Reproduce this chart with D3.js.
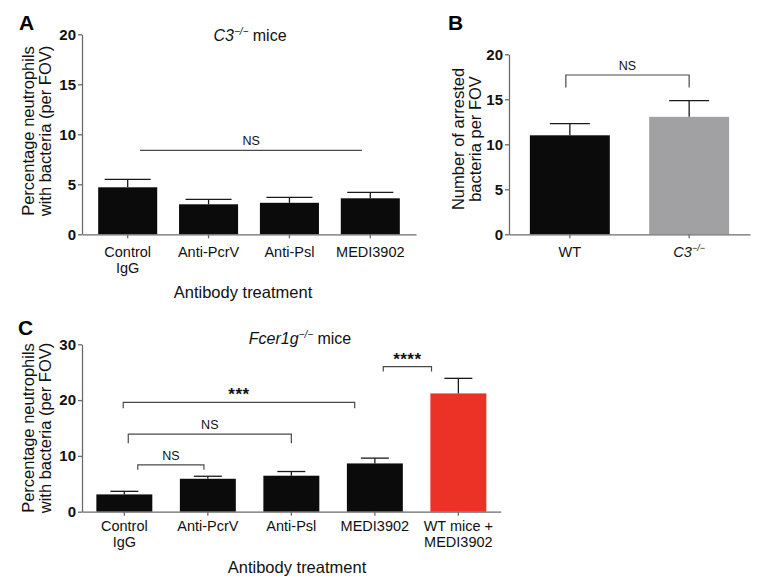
<!DOCTYPE html>
<html><head><meta charset="utf-8">
<script src="https://cdn.jsdelivr.net/npm/d3@7"></script>
<style>
body{margin:0;background:#fff}
text{font-family:"Liberation Sans",Arial,Helvetica,sans-serif}
</style>
</head><body>
<svg id="c" width="765" height="587"></svg>
<script>
// ---------------- DATA ----------------
const catsA = ["Control IgG","Anti-PcrV","Anti-Psl","MEDI3902"];
const labelsA = [["Control","IgG"],["Anti-PcrV"],["Anti-Psl"],["MEDI3902"]];
const meansA = [4.7, 3.0, 3.15, 3.6];
const errTopA = [5.5, 3.5, 3.7, 4.2];
const ticksA = [0, 5, 10, 15, 20];

const catsB = ["WT","C3"];
const meansB = [11.0, 13.05];
const errTopB = [12.3, 14.85];
const ticksB = [0, 5, 10, 15, 20];

const catsC = ["Control IgG","Anti-PcrV","Anti-Psl","MEDI3902","WT mice + MEDI3902"];
const labelsC = [["Control","IgG"],["Anti-PcrV"],["Anti-Psl"],["MEDI3902"],["WT mice +","MEDI3902"]];
const meansC = [3.1, 5.9, 6.45, 8.65, 21.2];
const errTopC = [3.65, 6.35, 7.2, 9.6, 23.9];
const ticksC = [0, 10, 20, 30];

// significance annotations: [from, to, value, label]
const sigA = [["Control IgG","MEDI3902",8.4,"NS"]];
const sigB = [["WT","C3",17.7,"NS"]];
const sigC = [
  ["Control IgG","MEDI3902",19.6,"***"],
  ["Control IgG","Anti-Psl",13.9,"NS"],
  ["Control IgG","Anti-PcrV",8.4,"NS"],
  ["MEDI3902","WT mice + MEDI3902",26.0,"****"]
];

// ---------------- LAYOUT / STYLE ----------------
const svg = d3.select("#c");
const AX = "#6b6b6b", BR = "#4a4a4a";

function panel(o){
  const g = svg.append("g");
  const x = d3.scaleBand().domain(o.cats).range(o.xr).paddingInner(o.pi).paddingOuter(o.po);
  const y = d3.scaleLinear().domain([0, o.ymax]).range(o.yr);
  const bw = x.bandwidth();

  // bars
  g.selectAll("rect.bar").data(o.cats).enter().append("rect")
    .attr("x", d => x(d)).attr("width", bw)
    .attr("y", (d,i) => y(o.means[i])).attr("height", (d,i) => y(0) - y(o.means[i]))
    .attr("fill", (d,i) => o.colors[i]);

  // error bars
  const cw = bw * o.cap;
  const eg = g.selectAll("g.err").data(o.cats).enter().append("g");
  eg.append("line").attr("x1", d => x(d)+bw/2).attr("x2", d => x(d)+bw/2)
    .attr("y1", (d,i) => y(o.means[i])).attr("y2", (d,i) => y(o.errTop[i]))
    .attr("stroke", "#1a1a1a").attr("stroke-width", 1.3);
  eg.append("line").attr("x1", d => x(d)+bw/2-cw/2).attr("x2", d => x(d)+bw/2+cw/2)
    .attr("y1", (d,i) => y(o.errTop[i])).attr("y2", (d,i) => y(o.errTop[i]))
    .attr("stroke", "#1a1a1a").attr("stroke-width", 1.3);

  // y axis
  const ya = g.append("g").attr("transform", `translate(${o.xr[0]},0)`)
    .call(d3.axisLeft(y).tickValues(o.ticks).tickSize(4).tickSizeOuter(0).tickPadding(2));
  ya.select(".domain").attr("stroke", AX).attr("stroke-width", 1.3);
  ya.selectAll(".tick line").attr("stroke", AX).attr("stroke-width", 1.3);
  ya.selectAll(".tick text").attr("font-size", 15).attr("font-weight", "bold").attr("fill", "#111")
    .attr("font-family", '"Liberation Sans",Arial,sans-serif');

  // x axis
  const xa = g.append("g").attr("transform", `translate(0,${o.yr[0]})`)
    .call(d3.axisBottom(x).tickSize(4).tickSizeOuter(0));
  xa.select(".domain").attr("stroke", AX).attr("stroke-width", 1.3);
  xa.selectAll(".tick line").attr("stroke", AX).attr("stroke-width", 1.3);
  xa.selectAll(".tick text").remove();
  o.cats.forEach((c,i) => {
    const t = g.append("text").attr("x", x(c)+bw/2).attr("y", o.yr[0] + o.lab0)
      .attr("text-anchor","middle").attr("font-size", 14.5).attr("fill","#111");
    if (o.italicLabel && o.italicLabel[i]) {
      t.append("tspan").attr("font-style","italic").text(o.labels[i][0]);
      t.append("tspan").attr("font-style","italic").attr("font-size", 9).attr("dy", -6).text("−/−");
    } else {
      o.labels[i].forEach((ln,k) => t.append("tspan").attr("x", x(c)+bw/2).attr("dy", k ? 16.5 : 0).text(ln));
    }
  });

  // x title
  if (o.xtitle) g.append("text").attr("x", o.xtitle[1]).attr("y", o.xtitle[2])
    .attr("text-anchor","middle").attr("font-size", 16.5).attr("fill","#111").text(o.xtitle[0]);

  // y title
  o.ytitle.forEach((ln,k) => {
    g.append("text").attr("transform", `translate(${o.ytx[k]},${o.yty}) rotate(-90)`)
      .attr("text-anchor","middle").attr("font-size", 16.5).attr("fill","#111").text(ln);
  });

  // panel letter
  g.append("text").attr("x", o.letter[1]).attr("y", o.letter[2]).attr("font-size", 21)
    .attr("font-weight", "bold").attr("fill","#000").text(o.letter[0]);

  // title
  if (o.title) {
    const t = g.append("text").attr("x", o.title[1]).attr("y", o.title[2])
      .attr("text-anchor","middle").attr("font-size", 16).attr("fill","#111");
    t.append("tspan").attr("font-style","italic").text(o.title[0]);
    t.append("tspan").attr("font-style","italic").attr("font-size", 10).attr("dy", -6).text("−/−");
    t.append("tspan").attr("dy", 6).text(" mice");
  }

  // significance brackets
  o.sig.forEach((s,i) => {
    const f = o.sigFrac[i];
    const x1 = x(s[0]) + bw*f[0], x2 = x(s[1]) + bw*f[1], yy = y(s[2]), leg = f[2];
    const p = leg > 0 ? `M${x1},${yy+leg}V${yy}H${x2}V${yy+leg}` : `M${x1},${yy}H${x2}`;
    g.append("path").attr("d", p).attr("fill","none").attr("stroke", BR).attr("stroke-width", 1.2);
    const star = s[3].startsWith("*");
    g.append("text").attr("x", (x1+x2)/2).attr("y", yy + (star ? -2 : -5))
      .attr("text-anchor","middle").attr("font-size", star ? 17 : 12.5)
      .attr("font-weight", star ? "bold" : "normal").attr("letter-spacing", star ? 0.5 : 0)
      .attr("fill","#111").text(s[3]);
  });
}

panel({
  cats: catsA, labels: labelsA, means: meansA, errTop: errTopA, ticks: ticksA, ymax: 20,
  xr: [82, 416], yr: [234.3, 34.3], pi: 0.27, po: 0.2, cap: 0.78,
  colors: catsA.map(() => "#0b0b0b"),
  lab0: 22.5, xtitle: ["Antibody treatment", 243, 298],
  ytitle: ["Percentage neutrophils", "with bacteria (per FOV)"], ytx: [33.5, 51], yty: 131,
  letter: ["A", 19, 30], title: ["C3", 250, 41],
  sig: sigA, sigFrac: [[0.71, 0.36, 0]]
});

panel({
  cats: catsB, labels: [["WT"],["C3"]], italicLabel: [false, true], means: meansB, errTop: errTopB, ticks: ticksB, ymax: 20,
  xr: [509, 750], yr: [234.3, 54.3], pi: 0.33, po: 0.175, cap: 0.5,
  colors: ["#0b0b0b", "#a1a1a3"],
  lab0: 22.5, xtitle: null,
  ytitle: ["Number of arrested", "bacteria per FOV"], ytx: [463.5, 481], yty: 139,
  letter: ["B", 448, 30], title: null,
  sig: sigB, sigFrac: [[0.45, 0.5, 12.6]]
});

panel({
  cats: catsC, labels: labelsC, means: meansC, errTop: errTopC, ticks: ticksC, ymax: 30,
  xr: [82, 500.7], yr: [511.7, 344.3], pi: 0.33, po: 0.172, cap: 0.5,
  colors: ["#0b0b0b","#0b0b0b","#0b0b0b","#0b0b0b","#ec3127"],
  lab0: 19, xtitle: ["Antibody treatment", 297, 573],
  ytitle: ["Percentage neutrophils", "with bacteria (per FOV)"], ytx: [33.5, 51], yty: 428,
  letter: ["C", 18, 335], title: ["Fcer1g", 300, 344],
  sig: sigC, sigFrac: [[0.48, 0.14, 6], [0.57, 0.5, 9], [0.74, 0.43, 5], [0.65, 0.02, 5]]
});
</script>
</body></html>
